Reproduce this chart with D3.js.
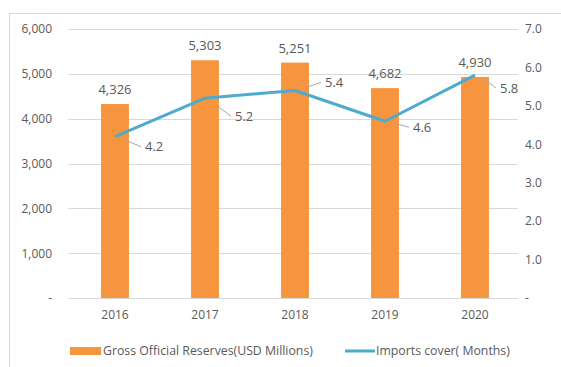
<!DOCTYPE html>
<html>
<head>
<meta charset="utf-8">
<script src="https://cdn.jsdelivr.net/npm/d3@7"></script>
<style>
  html, body { margin: 0; padding: 0; background: #fff; }
  svg { display: block; }
  text { font-family: "Open Sans", "Liberation Sans", sans-serif; fill: #595959; }
</style>
</head>
<body>
<svg id="chart" width="561" height="367"></svg>
<script>
// Gross official reserves and import cover, 2016-2020
const years = ["2016", "2017", "2018", "2019", "2020"];
const reserves = [4326, 5303, 5251, 4682, 4930];          // USD millions
const importsCover = [4.2, 5.2, 5.4, 4.6, 5.8];           // months
const leftTicks = [0, 1000, 2000, 3000, 4000, 5000, 6000];
const rightTicks = [0, 1, 2, 3, 4, 5, 6, 7];
const seriesNames = ["Gross Official Reserves(USD Millions)", "Imports cover( Months)"];

// label placement for the line values (offset from each point, in px)
const lineLabelOffset = [[30, 10], [30, 18], [30, -8], [28, 6], [25, 13]];

const svg = d3.select("#chart");
const W = 561, H = 367;
const m = { left: 70, right: 41, top: 29, bottom: 69 };
const x0 = m.left, x1 = W - m.right, y0 = H - m.bottom, y1 = m.top;

const barColor = "#F7953F";
const lineColor = "#4FAACF";

// frame
svg.append("rect").attr("x", 9.5).attr("y", 13.5).attr("width", 700).attr("height", 500)
  .attr("fill", "none").attr("stroke", "#d6d6d6").attr("stroke-width", 1);

const x = d3.scaleBand().domain(years).range([x0, x1]).paddingInner(0.69).paddingOuter(0.345);
const yL = d3.scaleLinear().domain([0, 6000]).range([y0, y1]);
const yR = d3.scaleLinear().domain([0, 7]).range([y0, y1]);

// gridlines
svg.append("g").selectAll("line").data(leftTicks).join("line")
  .attr("x1", x0 - 2).attr("x2", x1 - 2)
  .attr("y1", d => Math.round(yL(d)) + 0.5).attr("y2", d => Math.round(yL(d)) + 0.5)
  .attr("stroke", "#d9d9d9").attr("stroke-width", 1);

// left axis
const fmtL = d => d === 0 ? "-" : d3.format(",")(d);
const axL = svg.append("g").attr("transform", `translate(${x0 - 18},0)`)
  .call(d3.axisLeft(yL).tickValues(leftTicks).tickFormat(fmtL).tickSize(0).tickPadding(0));
axL.select(".domain").remove();
axL.selectAll("text").attr("font-size", 12).attr("fill", "#595959")
  .style("font-family", "Open Sans, sans-serif");

// right axis
const fmtR = d => d === 0 ? "-" : d3.format(".1f")(d);
const axR = svg.append("g").attr("transform", `translate(${x1 + 5},0)`)
  .call(d3.axisRight(yR).tickValues(rightTicks).tickFormat(fmtR).tickSize(0).tickPadding(0));
axR.select(".domain").remove();
axR.selectAll("text").attr("font-size", 12).attr("fill", "#595959")
  .style("font-family", "Open Sans, sans-serif");

// bottom axis labels
const axB = svg.append("g").attr("transform", `translate(0,${y0 + 12})`)
  .call(d3.axisBottom(x).tickSize(0).tickPadding(0));
axB.select(".domain").remove();
axB.selectAll("text").attr("font-size", 12).attr("fill", "#595959")
  .style("font-family", "Open Sans, sans-serif");

// bars
svg.append("g").selectAll("rect").data(reserves).join("rect")
  .attr("x", (d, i) => x(years[i]))
  .attr("y", d => yL(d))
  .attr("width", x.bandwidth())
  .attr("height", d => yL(0) - yL(d))
  .attr("fill", barColor);

// bar value labels
svg.append("g").selectAll("text").data(reserves).join("text")
  .attr("x", (d, i) => x(years[i]) + x.bandwidth() / 2)
  .attr("y", d => yL(d) - 10)
  .attr("text-anchor", "middle").attr("font-size", 13).attr("fill", "#4a4a4a")
  .text(d => d3.format(",")(d));

// imports cover line
const cx = i => x(years[i]) + x.bandwidth() / 2;
const line = d3.line().x((d, i) => cx(i)).y(d => yR(d));
svg.append("path").datum(importsCover).attr("d", line)
  .attr("fill", "none").attr("stroke", lineColor).attr("stroke-width", 3)
  .attr("stroke-linejoin", "round");

// line value labels with leader lines
const lbl = svg.append("g");
importsCover.forEach((v, i) => {
  const px = cx(i), py = yR(v);
  const [dx, dy] = lineLabelOffset[i];
  lbl.append("line")
    .attr("x1", px + 10).attr("y1", py + dy * 0.35)
    .attr("x2", px + dx - 4).attr("y2", py + dy)
    .attr("stroke", "#a6a6a6").attr("stroke-width", 1);
  lbl.append("text").attr("x", px + dx).attr("y", py + dy)
    .attr("dy", "0.35em").attr("font-size", 13).attr("fill", "#4a4a4a")
    .text(d3.format(".1f")(v));
});

// legend
const lg = svg.append("g").attr("transform", "translate(0,351)");
lg.append("rect").attr("x", 70).attr("y", -4).attr("width", 31).attr("height", 8).attr("fill", barColor);
lg.append("text").attr("x", 103).attr("y", 0).attr("dy", "0.35em").attr("font-size", 12.3).text(seriesNames[0]);
lg.append("line").attr("x1", 345).attr("x2", 375).attr("y1", 0).attr("y2", 0)
  .attr("stroke", lineColor).attr("stroke-width", 3);
lg.append("text").attr("x", 376).attr("y", 0).attr("dy", "0.35em").attr("font-size", 12.3).text(seriesNames[1]);
</script>
</body>
</html>
